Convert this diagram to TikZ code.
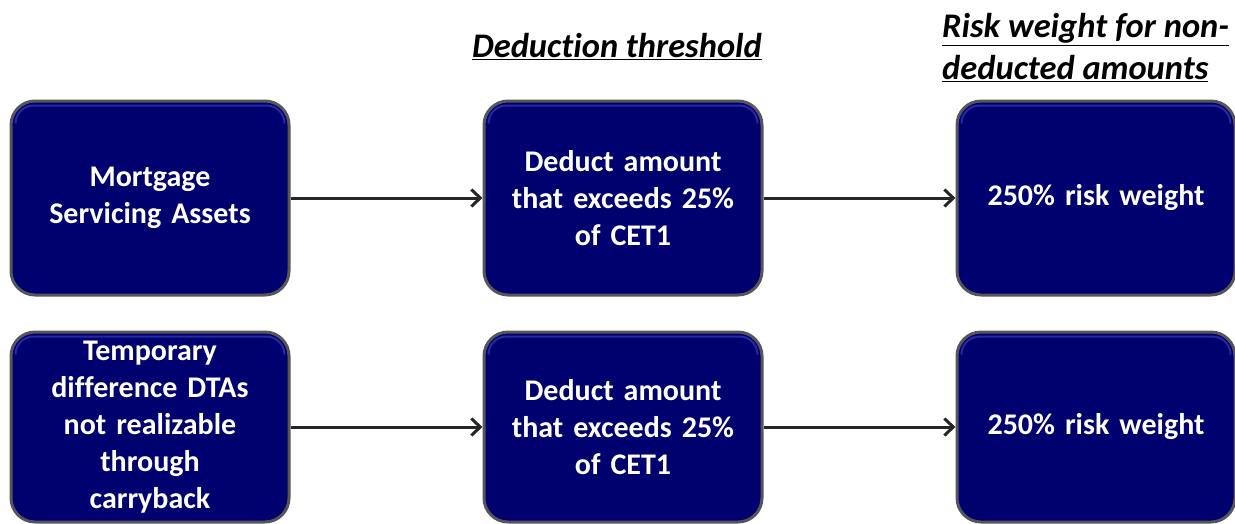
\documentclass[tikz,border=0pt]{standalone}
\usepackage{fontspec}
\setmainfont{Carlito}[Ligatures=NoCommon]
\usetikzlibrary{arrows.meta,positioning}

\definecolor{boxnavy}{RGB}{0,0,110}
\definecolor{boxrim}{RGB}{85,85,90}
\definecolor{boxglow}{RGB}{40,40,160}

\tikzset{
  box/.style={rectangle,rounded corners=24pt,fill=boxnavy,draw=boxrim,line width=3pt,
    minimum width=278pt,text width=250pt,align=center,text=white,
    font=\fontsize{30}{37}\selectfont\bfseries,inner sep=0pt},
  toprow/.style={box,minimum height=194pt},
  lowrow/.style={box,minimum height=190pt},
  hdr/.style={font=\fontsize{34.5}{42}\selectfont\bfseries\itshape,inner sep=0pt},
  link/.style={line width=3pt,draw=black!85,-{Straight Barb[length=9pt,width=17pt,line width=3pt]}}
}

\begin{document}
\begin{tikzpicture}[x=1pt,y=-1pt]
\useasboundingbox (0,0) rectangle (1235,523);

% top row
\node[toprow] (msa) at (150,198) {Mortgage\\Servicing Assets};
\node[toprow,right=192pt of msa] (cut1) {Deduct amount\\that exceeds 25\%\\of CET1};
\node[toprow,right=192pt of cut1] (rw1) {250\% risk weight};

% bottom row
\node[lowrow] (dta) at (150,427) {Temporary\\difference DTAs\\not realizable\\through\\carryback};
\node[lowrow,right=192pt of dta] (cut2) {Deduct amount\\that exceeds 25\%\\of CET1};
\node[lowrow,right=192pt of cut2] (rw2) {250\% risk weight};

% inner highlight along the top edge
\foreach \b in {msa,cut1,rw1,dta,cut2,rw2}{
  \draw[boxglow,line width=2pt] ([xshift=6pt,yshift=-24pt]\b.north west) arc[start angle=180,end angle=90,radius=18pt]
    -- ([xshift=-24pt,yshift=-6pt]\b.north east) arc[start angle=90,end angle=0,radius=18pt];
}

\draw[link] (msa) -- (cut1);
\draw[link] (cut1) -- (rw1);
\draw[link] (dta) -- (cut2);
\draw[link] (cut2) -- (rw2);

% column headings
\node[hdr] (hcut) at (617,47) {\underline{Deduction threshold}};
\node[hdr,align=left,anchor=west] (hrw) at (942,48) {\underline{Risk weight for non-}\\\underline{deducted amounts}};
\end{tikzpicture}
\end{document}
